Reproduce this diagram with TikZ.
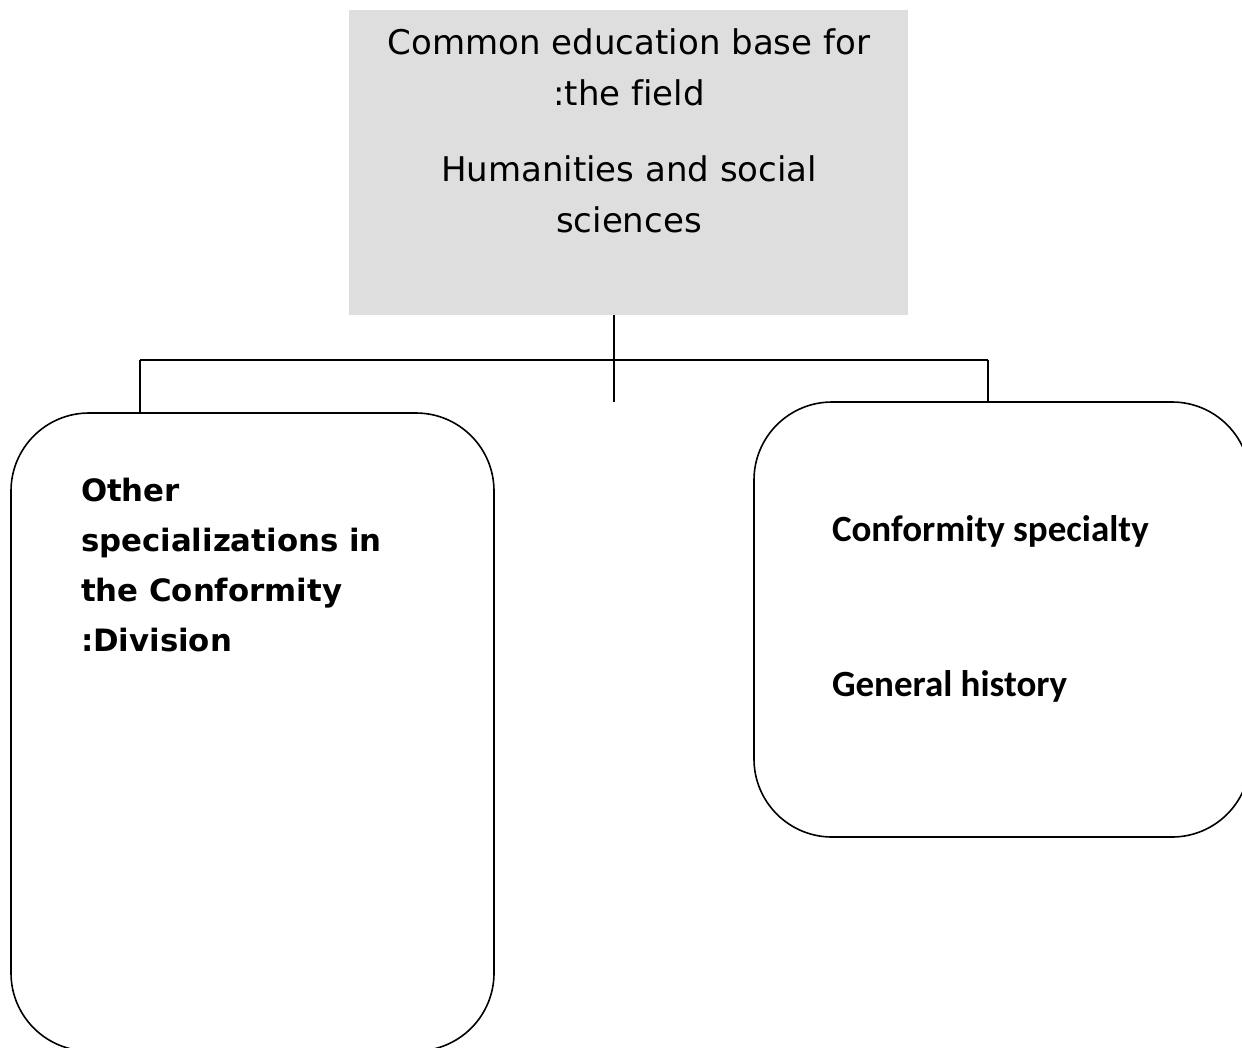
\documentclass[tikz,border=0pt]{standalone}
\usepackage{fontspec}
\newfontfamily\dejavu[Ligatures=NoCommon]{DejaVu Sans}
\newfontfamily\carlito{Carlito}
\definecolor{boxgray}{HTML}{DEDEDE}
\begin{document}
\begin{tikzpicture}[x=1pt,y=-1pt,
  line/.style={draw=black,line width=1.6pt},
  grayblock/.style={fill=boxgray,draw=none,inner sep=0pt,outer sep=0pt},
  roundbox/.style={draw=black,line width=1.6pt,rounded corners=78pt,inner sep=0pt,outer sep=0pt},
  txt/.style={inner sep=0pt,outer sep=0pt,text=black}]
\useasboundingbox (0,0) rectangle (1242,1047);
% boxes
\node[grayblock,minimum width=559pt,minimum height=305pt] (top) at (628.5,162.5) {};
\node[roundbox,minimum width=483pt,minimum height=638pt] (left) at (252.5,732) {};
\node[roundbox,minimum width=496pt,minimum height=435pt] (right) at (1002,619.5) {};
% texts
\node[txt,anchor=base] (toptext) at (629,54) {\parbox[t]{540pt}{\centering\dejavu\fontsize{34}{51}\selectfont
  Common education base for\\ :the field\\[25pt] Humanities and social\\ sciences}};
\node[txt,anchor=base west] (lefttext) at (81,501) {\parbox[t]{400pt}{\raggedright\dejavu\bfseries\fontsize{30.8}{50}\selectfont
  Other\\ specializations in\\ the Conformity\\ :Division}};
\node[txt,anchor=base west] (righttext) at (832,541) {\parbox[t]{400pt}{\raggedright\carlito\bfseries\fontsize{37}{44}\selectfont
  Conformity specialty\\[111pt] General history}};
% connectors
\coordinate (stub) at (614,402);
\coordinate (hl) at (140,360);
\coordinate (hr) at (988,360);
\draw[line] (top.south -| stub) -- (stub);
\draw[line] (hl) -- (hr);
\draw[line] (hl) -- (left.north -| hl);
\draw[line] (hr) -- (right.north -| hr);
\end{tikzpicture}
\end{document}
